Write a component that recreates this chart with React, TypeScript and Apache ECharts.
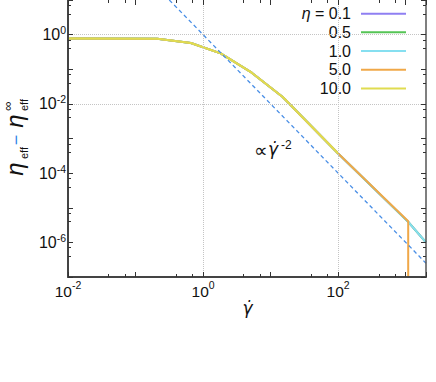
import React, { useEffect, useRef } from 'react';
import * as echarts from 'echarts';

// shear rate samples
const gammaDot = [0.01, 0.21, 0.66, 1.82, 5.25, 15.1, 100, 1090, 2000];
const gammaDot5 = [0.01, 0.21, 0.66, 1.82, 5.25, 15.1, 100, 1090, 1091];
const gammaDot10 = [0.01, 0.21, 0.66, 1.82, 5.25, 15.1, 100];
// eta_eff - eta_inf for each eta
const eta01 = [0.77, 0.76, 0.575, 0.288, 0.0794, 0.0158, 3.7e-4, 3.9e-6, 1.0e-6];
const eta05 = [0.77, 0.76, 0.575, 0.288, 0.0794, 0.0158, 3.7e-4, 3.9e-6, 1.0e-6];
const eta1 = [0.77, 0.76, 0.575, 0.288, 0.0794, 0.0158, 3.7e-4, 3.9e-6, 1.0e-6];
const eta5 = [0.77, 0.76, 0.575, 0.288, 0.0794, 0.0158, 3.7e-4, 4.1e-6, 1e-12];
const eta10 = [0.77, 0.76, 0.575, 0.288, 0.0794, 0.0158, 3.7e-4];
// power-law guide  ∝ γ̇^-2
const guideX = [0.316, 2000];
const guideY = [10, 2.5e-7];

const seriesNames = ['0.1', '0.5', '1.0', '5.0', '10.0'];
const seriesColors = ['#8f7ff2', '#55c455', '#86dff0', '#f0a848', '#e0dc50'];
const yGridValues = [1, 1e-2, 1e-4, 1e-6];
const xGridValues = [1, 100];

const FONT = 'Liberation Sans, Arial, sans-serif';

const pairs = (xs: number[], ys: number[]) => xs.map((x, i) => [x, ys[i]]);

const expLabel = (v: number) => {
  const e = Math.log10(v);
  const r = Math.round(e);
  if (Math.abs(e - r) > 1e-6 || r % 2 !== 0) return '';
  return '{b|10}{s|' + r + '}';
};

export default function App() {
  const ref = useRef<HTMLDivElement>(null);
  useEffect(() => {
    document.body.style.margin = '0';
    const chart = echarts.init(ref.current!, null, { renderer: 'svg' });
    const dataSets = [
      pairs(gammaDot, eta01),
      pairs(gammaDot, eta05),
      pairs(gammaDot, eta1),
      pairs(gammaDot5, eta5),
      pairs(gammaDot10, eta10),
    ];
    const axisTickCommon = { inside: true, length: 5, lineStyle: { color: '#333', width: 1 } };
    const minorCommon = { show: true, splitNumber: 3, length: 3, lineStyle: { color: '#333', width: 1 } };
    const option: any = {
      animation: false,
      grid: { left: 68, right: 10, top: 0, bottom: 105 },
      xAxis: [
        {
          type: 'log', logBase: 10, min: 0.01, max: 2000, interval: 1, z: 5,
          axisLine: { show: true, lineStyle: { color: '#444', width: 2 } },
          axisTick: axisTickCommon,
          minorTick: minorCommon,
          splitLine: { show: false },
          axisLabel: {
            formatter: expLabel, margin: 2, showMaxLabel: false,
            rich: {
              b: { fontSize: 15.5, fontFamily: FONT, color: '#111', lineHeight: 24, verticalAlign: 'middle' },
              s: { fontSize: 10.5, fontFamily: FONT, color: '#111', lineHeight: 10, verticalAlign: 'top' },
            },
          },
        },
        {
          type: 'log', logBase: 10, min: 0.01, max: 2000, interval: 1, position: 'top', z: 5,
          axisLine: { show: false },
          axisTick: axisTickCommon,
          minorTick: minorCommon,
          splitLine: { show: false },
          axisLabel: { show: false },
        },
      ],
      yAxis: [
        {
          type: 'log', logBase: 10, min: 1e-7, max: 10, interval: 1, z: 5,
          axisLine: { show: true, lineStyle: { color: '#444', width: 2 } },
          axisTick: axisTickCommon,
          minorTick: minorCommon,
          splitLine: { show: false },
          axisLabel: {
            formatter: expLabel, margin: 2, showMaxLabel: false, showMinLabel: false,
            rich: {
              b: { fontSize: 16, fontFamily: FONT, color: '#111', lineHeight: 20, verticalAlign: 'middle' },
              s: { fontSize: 10.5, fontFamily: FONT, color: '#111', lineHeight: 10, verticalAlign: 'top' },
            },
          },
        },
        {
          type: 'log', logBase: 10, min: 1e-7, max: 10, interval: 1, position: 'right', z: 5,
          axisLine: { show: true, lineStyle: { color: '#555', width: 1.5 } },
          axisTick: axisTickCommon,
          minorTick: minorCommon,
          splitLine: { show: false },
          axisLabel: { show: false },
        },
      ],
      legend: {
        data: seriesNames,
        orient: 'vertical',
        align: 'right',
        right: 11,
        top: 0,
        z: 2,
        icon: 'rect',
        itemWidth: 45,
        itemHeight: 2,
        itemGap: 2.67,
        padding: [5.7, 19, 16, 21],
        backgroundColor: '#ffffff',
        formatter: (name: string) => (name === '0.1' ? '{i|η} = 0.1' : name),
        textStyle: {
          fontSize: 16, fontFamily: FONT, color: '#111', lineHeight: 14, padding: [0, 5, 0, 0],
          rich: { i: { fontSize: 16, fontFamily: FONT, fontStyle: 'italic', color: '#111' } },
        },
      },
      series: [
        {
          name: 'grid', type: 'line', data: [[1, 1]], symbol: 'none', z: 1, silent: true,
          lineStyle: { opacity: 0 },
          markLine: {
            silent: true, symbol: ['none', 'none'], label: { show: false },
            lineStyle: { type: 'dotted', color: '#c4c4c4', width: 1 },
            data: [
              ...yGridValues.map((v) => ({ yAxis: v })),
              ...xGridValues.map((v) => ({ xAxis: v })),
            ],
          },
        },
        ...seriesNames.map((n, i) => ({
          name: n, type: 'line', data: dataSets[i], symbol: 'none', showSymbol: false, z: 3,
          lineStyle: { color: seriesColors[i], width: 2 },
          itemStyle: { color: seriesColors[i] },
        })),
        {
          name: 'guide', type: 'line', data: pairs(guideX, guideY), symbol: 'none', z: 4,
          lineStyle: { color: '#4a8fe6', width: 1.3, type: [4, 3] },
        },
      ],
      graphic: [
        { type: 'text', x: 14, y: 169, rotation: Math.PI / 2, style: { text: 'η', fontSize: 24, fontFamily: FONT, fontStyle: 'italic', fill: '#111', align: 'center', verticalAlign: 'middle' } },
        { type: 'text', x: 23.5, y: 153, rotation: Math.PI / 2, style: { text: 'eff', fontSize: 11, fontFamily: FONT, fill: '#111', align: 'center', verticalAlign: 'middle' } },
        { type: 'text', x: 16, y: 140, rotation: Math.PI / 2, style: { text: '−', fontSize: 18, fontFamily: FONT, fill: '#2f7fe6', align: 'center', verticalAlign: 'middle' } },
        { type: 'text', x: 14, y: 121, rotation: Math.PI / 2, style: { text: 'η', fontSize: 24, fontFamily: FONT, fontStyle: 'italic', fill: '#111', align: 'center', verticalAlign: 'middle' } },
        { type: 'text', x: 23.5, y: 105, rotation: Math.PI / 2, style: { text: 'eff', fontSize: 11, fontFamily: FONT, fill: '#111', align: 'center', verticalAlign: 'middle' } },
        { type: 'text', x: 7, y: 106, rotation: Math.PI / 2, style: { text: '∞', fontSize: 13, fontFamily: FONT, fill: '#111', align: 'center', verticalAlign: 'middle' } },
        { type: 'text', x: 247.5, y: 308, style: { text: 'γ̇', fontSize: 17, fontFamily: 'DejaVu Sans', fontStyle: 'italic', fill: '#111', align: 'center', verticalAlign: 'middle' } },
        { type: 'text', x: 254, y: 150, style: { text: '∝', fontSize: 19, fontFamily: 'DejaVu Sans', fill: '#111', align: 'left', verticalAlign: 'middle' } },
        { type: 'text', x: 268, y: 149, style: { text: 'γ̇', fontSize: 17, fontFamily: 'DejaVu Sans', fontStyle: 'italic', fill: '#111', align: 'left', verticalAlign: 'middle' } },
        { type: 'text', x: 281, y: 145, style: { text: '-2', fontSize: 12, fontFamily: FONT, fill: '#111', align: 'left', verticalAlign: 'middle' } },
      ],
    };
    chart.setOption(option);
    return () => chart.dispose();
  }, []);
  return <div ref={ref} style={{ position: 'absolute', left: 0, top: 0, width: 436, height: 382 }} />;
}
